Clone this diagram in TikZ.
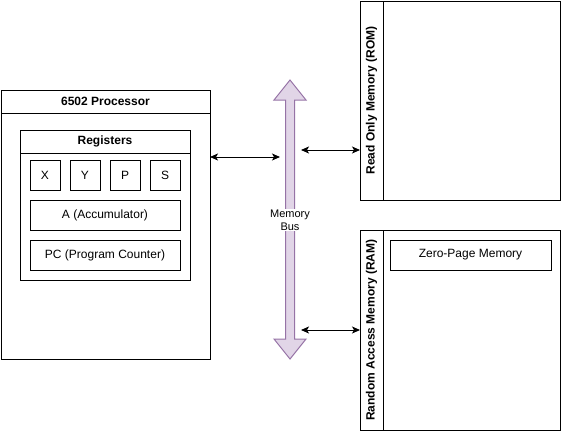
\documentclass[tikz,border=0pt]{standalone}
\usepackage{fontspec}
\setmainfont{Liberation Sans}
\usetikzlibrary{arrows.meta}
\usetikzlibrary{positioning}
\newcommand{\registerCell}[4]{%%
  %% One register of the processor.
  \node[cellStyle,minimum width=#4] (#1) at (#2) {#3};
}
\newcommand{\memoryBus}{%%
  %% The wide double arrow of the bus.
  \draw[busStyle] (busTop) -- ++(16,20) -- ++(-11.5,0) -- (\xbus+4.5,\ybase)
    -- ++(11.5,0) -- (busBottom) -- ++(-16,-20) -- ++(11.5,0)
    -- (\xbus-4.5,\ytop) -- ++(-11.5,0) -- cycle;
  \node[busLabelStyle] (busLabel) at (\xbus,220) {Memory\\Bus};
}
\newcommand{\memoryBlock}[4]{%%
  %% A memory block with its rotated title strip.
  \node[boxStyle,minimum width=200,minimum height=#3] (#1) at (460,#2) {};
  \node[boxStyle,titleStyle,minimum width=#3,minimum height=23,rotate=90]
    (#1Title) at (371.5,#2) {#4};
}

\begin{document}
\begin{tikzpicture}[%%
  x=1pt,y=-1pt,%%
  boxStyle/.style={draw,rectangle,inner sep=0pt,outer sep=0pt,line width=1pt},%%
  titleStyle/.style={font=\fontsize{12}{14}\selectfont\bfseries},%%
  cellStyle/.style={boxStyle,minimum height=30,font=\fontsize{12}{14}\selectfont},%%
  busStyle/.style={fill={rgb,255:red,225;green,213;blue,231},draw={rgb,255:red,150;green,115;blue,166},line width=1pt},%%
  busLabelStyle/.style={fill=white,inner sep=1pt,align=center,font=\fontsize{11}{13}\selectfont},%%
  linkStyle/.style={{Stealth[length=8pt,width=7pt,inset=2pt]}-{Stealth[length=8pt,width=7pt,inset=2pt]},line width=1pt}%%
]
\useasboundingbox (0,0) rectangle (561,431);
%%
%%
\pgfmathsetmacro{\xbus}{290}
\pgfmathsetmacro{\ytop}{100}
\pgfmathsetmacro{\ybase}{339}
%% The ends of the bus and of its links.
\coordinate (busTop) at (\xbus,80);
\coordinate (busBottom) at (\xbus,359);
\coordinate (procLink) at (280,157);
\coordinate (romLink) at (301,150);
\coordinate (ramLink) at (301,330);
%%
%%
%% The processor.
\node[boxStyle,minimum width=209,minimum height=269] (processor) at (105.5,224.5) {};
\node[boxStyle,titleStyle,minimum width=209,minimum height=23] (processorTitle) at (105.5,101.5) {6502 Processor};
\node[boxStyle,minimum width=170,minimum height=150] (registers) at (105,205) {};
\node[boxStyle,titleStyle,minimum width=170,minimum height=23] (registersTitle) at (105,141.5) {Registers};
\registerCell{regX}{45,175}{X}{30}
\registerCell{regY}{85,175}{Y}{30}
\registerCell{regP}{125,175}{P}{30}
\registerCell{regS}{165,175}{S}{30}
\registerCell{regA}{105,215}{A (Accumulator)}{150}
\registerCell{regPC}{105,255}{PC (Program Counter)}{150}
%% The memories.
\memoryBlock{rom}{100.5}{199}{Read Only Memory (ROM)}
\memoryBlock{ram}{330}{200}{Random Access Memory (RAM)}
\registerCell{zeroPage}{470.5,255}{Zero-Page Memory}{161}
%% The bus and its links.
\memoryBus
\draw[linkStyle] (procLink -| processor.east) -- (procLink);
\draw[linkStyle] (romLink) -- (romLink -| rom.west);
\draw[linkStyle] (ramLink) -- (ramLink -| ram.west);
\end{tikzpicture}
\end{document}
